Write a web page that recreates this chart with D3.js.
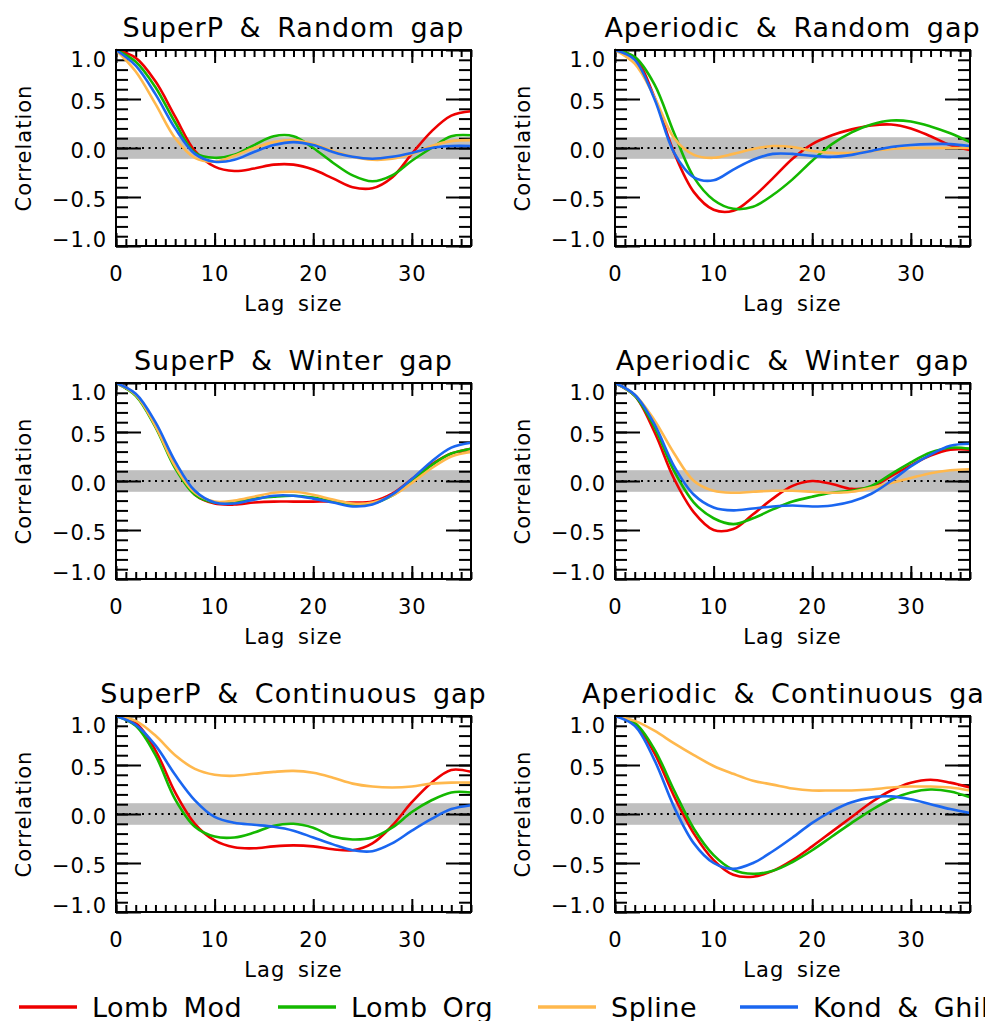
<!DOCTYPE html>
<html>
<head>
<meta charset="utf-8">
<script src="https://cdn.jsdelivr.net/npm/d3@7"></script>
<style>
  body { margin: 0; background: #fff; }
  text { font-family: "DejaVu Sans", sans-serif; fill: #000; }
</style>
</head>
<body>
<svg id="chart" width="985" height="1021"></svg>
<script>
  // lag values at which the curves were read (every 2 steps)
  const lags = [0, 2, 4, 6, 8, 10, 12, 14, 16, 18, 20, 22, 24, 26, 28, 30, 32, 34, 36];

  const methods = ['Lomb Mod', 'Lomb Org', 'Spline', 'Kond & Ghil'];
  const methodColors = ['#ee0000', '#14b800', '#ffb84d', '#1a66f0'];

  const titles = [
    'SuperP & Random gap', 'Aperiodic & Random gap',
    'SuperP & Winter gap', 'Aperiodic & Winter gap',
    'SuperP & Continuous gap', 'Aperiodic & Continuous gap'
  ];

  // SuperP & Random gap
  const spRandomLombMod = [1.0, 0.92, 0.68, 0.32, -0.03, -0.19, -0.235, -0.21, -0.17, -0.17, -0.22, -0.31, -0.40, -0.41, -0.30, -0.06, 0.17, 0.33, 0.375];
  const spRandomLombOrg = [1.0, 0.88, 0.62, 0.26, -0.05, -0.10, -0.07, 0.03, 0.12, 0.12, 0.0, -0.15, -0.28, -0.34, -0.28, -0.13, 0.0, 0.12, 0.13];
  const spRandomSpline = [1.0, 0.78, 0.45, 0.10, -0.10, -0.14, -0.08, 0.0, 0.06, 0.08, 0.04, -0.03, -0.09, -0.12, -0.11, -0.06, 0.02, 0.07, 0.08];
  const spRandomKond = [1.0, 0.84, 0.55, 0.20, -0.06, -0.14, -0.12, -0.04, 0.03, 0.06, 0.03, -0.04, -0.09, -0.11, -0.09, -0.05, 0.0, 0.02, 0.02];

  // Aperiodic & Random gap
  const apRandomLombMod = [1.0, 0.92, 0.52, -0.05, -0.45, -0.63, -0.64, -0.50, -0.31, -0.11, 0.04, 0.13, 0.19, 0.23, 0.24, 0.20, 0.12, 0.03, -0.02];
  const apRandomLombOrg = [1.0, 0.93, 0.65, 0.15, -0.30, -0.53, -0.62, -0.60, -0.48, -0.32, -0.13, 0.04, 0.16, 0.24, 0.28, 0.27, 0.22, 0.15, 0.06];
  const apRandomSpline = [1.0, 0.86, 0.52, 0.10, -0.07, -0.10, -0.06, -0.01, 0.02, 0.01, -0.03, -0.05, -0.05, -0.03, -0.01, 0.0, 0.0, 0.0, 0.0];
  const apRandomKond = [1.0, 0.90, 0.50, -0.05, -0.30, -0.33, -0.22, -0.12, -0.06, -0.06, -0.08, -0.09, -0.07, -0.03, 0.01, 0.03, 0.04, 0.04, 0.02];

  // SuperP & Winter gap
  const spWinterLombMod = [1.0, 0.88, 0.56, 0.15, -0.14, -0.23, -0.24, -0.22, -0.21, -0.21, -0.21, -0.21, -0.22, -0.21, -0.13, 0.02, 0.17, 0.28, 0.33];
  const spWinterLombOrg = [1.0, 0.87, 0.55, 0.13, -0.14, -0.22, -0.21, -0.18, -0.16, -0.15, -0.17, -0.21, -0.24, -0.23, -0.15, 0.0, 0.16, 0.28, 0.33];
  const spWinterSpline = [1.0, 0.88, 0.56, 0.15, -0.12, -0.21, -0.20, -0.16, -0.12, -0.11, -0.14, -0.19, -0.23, -0.22, -0.15, -0.02, 0.13, 0.25, 0.30];
  const spWinterKond = [1.0, 0.89, 0.60, 0.20, -0.10, -0.22, -0.23, -0.19, -0.15, -0.15, -0.18, -0.22, -0.26, -0.24, -0.14, 0.02, 0.20, 0.34, 0.39];

  // Aperiodic & Winter gap
  const apWinterLombMod = [1.0, 0.87, 0.50, 0.02, -0.32, -0.50, -0.49, -0.34, -0.18, -0.05, 0.0, -0.03, -0.08, -0.06, 0.05, 0.16, 0.26, 0.32, 0.32];
  const apWinterLombOrg = [1.0, 0.87, 0.55, 0.10, -0.22, -0.38, -0.44, -0.38, -0.29, -0.21, -0.16, -0.12, -0.10, -0.05, 0.07, 0.19, 0.29, 0.34, 0.33];
  const apWinterSpline = [1.0, 0.88, 0.62, 0.28, 0.0, -0.10, -0.12, -0.11, -0.10, -0.10, -0.11, -0.12, -0.11, -0.07, -0.02, 0.03, 0.08, 0.11, 0.12];
  const apWinterKond = [1.0, 0.88, 0.58, 0.15, -0.14, -0.27, -0.30, -0.28, -0.26, -0.25, -0.26, -0.25, -0.21, -0.13, 0.0, 0.15, 0.27, 0.36, 0.38];

  // SuperP & Continuous gap
  const spContLombMod = [1.0, 0.93, 0.65, 0.22, -0.10, -0.27, -0.34, -0.35, -0.33, -0.32, -0.33, -0.36, -0.37, -0.30, -0.12, 0.12, 0.32, 0.45, 0.43];
  const spContLombOrg = [1.0, 0.90, 0.60, 0.15, -0.13, -0.23, -0.24, -0.19, -0.12, -0.10, -0.14, -0.23, -0.26, -0.24, -0.14, 0.02, 0.14, 0.22, 0.22];
  const spContSpline = [1.0, 0.95, 0.80, 0.60, 0.46, 0.40, 0.39, 0.41, 0.43, 0.44, 0.42, 0.37, 0.31, 0.28, 0.27, 0.28, 0.31, 0.32, 0.32];
  const spContKond = [1.0, 0.91, 0.70, 0.40, 0.14, -0.03, -0.09, -0.11, -0.13, -0.17, -0.24, -0.31, -0.37, -0.38, -0.30, -0.17, -0.05, 0.05, 0.09];

  // Aperiodic & Continuous gap
  const apContLombMod = [1.0, 0.92, 0.62, 0.18, -0.20, -0.47, -0.62, -0.64, -0.58, -0.47, -0.33, -0.18, -0.03, 0.12, 0.24, 0.32, 0.35, 0.32, 0.27];
  const apContLombOrg = [1.0, 0.93, 0.66, 0.24, -0.15, -0.42, -0.57, -0.61, -0.58, -0.49, -0.37, -0.23, -0.09, 0.04, 0.15, 0.22, 0.25, 0.23, 0.17];
  const apContSpline = [1.0, 0.95, 0.85, 0.72, 0.60, 0.49, 0.41, 0.34, 0.30, 0.26, 0.24, 0.24, 0.24, 0.25, 0.27, 0.28, 0.28, 0.27, 0.24];
  const apContKond = [1.0, 0.90, 0.55, 0.07, -0.30, -0.50, -0.56, -0.50, -0.38, -0.24, -0.09, 0.03, 0.12, 0.17, 0.18, 0.15, 0.10, 0.05, 0.01];

  const yMajor = [-1, -0.5, 0, 0.5, 1];
  const xMajor = [0, 10, 20, 30];
  const bandHalf = 0.11;

  const panelSeries = [
    [spRandomLombMod, spRandomLombOrg, spRandomSpline, spRandomKond],
    [apRandomLombMod, apRandomLombOrg, apRandomSpline, apRandomKond],
    [spWinterLombMod, spWinterLombOrg, spWinterSpline, spWinterKond],
    [apWinterLombMod, apWinterLombOrg, apWinterSpline, apWinterKond],
    [spContLombMod, spContLombOrg, spContSpline, spContKond],
    [apContLombMod, apContLombOrg, apContSpline, apContKond]
  ];

  // layout
  const colLeft = [116, 615];
  const rowTop = [50, 383, 716];
  const plotW = 355, plotH = 196;

  const svg = d3.select('#chart');

  const x = d3.scaleLinear().domain([0, 36]).range([0, plotW]);
  const y = d3.scaleLinear().domain([-1, 1]).range([plotH, 0]);

  const line = d3.line()
    .x(d => x(d[0]))
    .y(d => y(d[1]))
    .curve(d3.curveCatmullRom.alpha(0.5));

  const yFmt = d => d3.format('.1f')(d);

  function styleAxis(g, showText) {
    g.select('.domain').remove();
    g.attr('font-family', null).attr('font-size', null);
    g.selectAll('.tick line').attr('stroke', '#000').attr('stroke-width', 2);
    if (!showText) g.selectAll('.tick text').remove();
  }

  panelSeries.forEach((series, i) => {
    const left = colLeft[i % 2];
    const top = rowTop[Math.floor(i / 2)];
    const g = svg.append('g').attr('transform', `translate(${left},${top})`);

    // gray significance band
    g.append('rect')
      .attr('x', 0).attr('width', plotW)
      .attr('y', y(bandHalf)).attr('height', y(-bandHalf) - y(bandHalf))
      .attr('fill', '#bfbfbf');

    // dotted zero line
    g.append('line')
      .attr('x1', 0).attr('x2', plotW)
      .attr('y1', y(0)).attr('y2', y(0))
      .attr('stroke', '#000').attr('stroke-width', 2)
      .attr('stroke-dasharray', '2,4.5');

    // axes (ticks pointing inward)
    g.append('g')
      .call(d3.axisLeft(y).tickValues(d3.range(-10, 11).map(v => v / 10)).tickSize(-12))
      .call(a => styleAxis(a, false));
    g.append('g')
      .call(d3.axisLeft(y).tickValues(yMajor).tickSize(-25).tickPadding(9).tickFormat(yFmt))
      .call(a => styleAxis(a, true))
      .selectAll('.tick text')
      .attr('font-size', 21)
      .attr('letter-spacing', 1)
      .attr('dy', d => (d === 1 ? 16.5 : d === -1 ? 0.5 : 9) + 'px');
    g.append('g').attr('transform', `translate(${plotW},0)`)
      .call(d3.axisRight(y).tickValues(d3.range(-10, 11).map(v => v / 10)).tickSize(-12))
      .call(a => styleAxis(a, false));
    g.append('g').attr('transform', `translate(${plotW},0)`)
      .call(d3.axisRight(y).tickValues(yMajor).tickSize(-25))
      .call(a => styleAxis(a, false));

    g.append('g').attr('transform', `translate(0,${plotH})`)
      .call(d3.axisBottom(x).tickValues(d3.range(0, 37)).tickSize(-7))
      .call(a => styleAxis(a, false));
    g.append('g').attr('transform', `translate(0,${plotH})`)
      .call(d3.axisBottom(x).tickValues(xMajor).tickSize(-13).tickPadding(20).tickFormat(d3.format('d')))
      .call(a => styleAxis(a, true))
      .selectAll('.tick text')
      .attr('font-size', 21)
      .attr('letter-spacing', 1);
    g.append('g')
      .call(d3.axisTop(x).tickValues(d3.range(0, 37)).tickSize(-7))
      .call(a => styleAxis(a, false));
    g.append('g')
      .call(d3.axisTop(x).tickValues(xMajor).tickSize(-13))
      .call(a => styleAxis(a, false));

    // curves
    series.forEach((vals, k) => {
      g.append('path')
        .datum(lags.map((l, j) => [l, vals[j]]))
        .attr('d', line)
        .attr('fill', 'none')
        .attr('stroke', methodColors[k])
        .attr('stroke-width', 2.6);
    });

    // frame
    g.append('rect')
      .attr('width', plotW).attr('height', plotH)
      .attr('fill', 'none').attr('stroke', '#000').attr('stroke-width', 2);

    // texts
    g.append('text')
      .attr('x', plotW / 2).attr('y', -13)
      .attr('text-anchor', 'middle')
      .attr('font-size', 27)
      .attr('letter-spacing', 1).attr('word-spacing', 6)
      .text(titles[i]);

    g.append('text')
      .attr('x', plotW / 2).attr('y', plotH + 65)
      .attr('text-anchor', 'middle')
      .attr('font-size', 21)
      .attr('letter-spacing', 1).attr('word-spacing', 5)
      .text('Lag size');

    g.append('text')
      .attr('transform', `translate(-85,${plotH / 2}) rotate(-90)`)
      .attr('text-anchor', 'middle')
      .attr('font-size', 21)
      .attr('letter-spacing', 1)
      .text('Correlation');
  });

  // legend
  const legendX = [19, 278, 538, 740];
  const legendY = 1007;
  const legend = svg.append('g');
  methods.forEach((m, k) => {
    legend.append('line')
      .attr('x1', legendX[k]).attr('x2', legendX[k] + 58)
      .attr('y1', legendY).attr('y2', legendY)
      .attr('stroke', methodColors[k]).attr('stroke-width', 3.5);
    legend.append('text')
      .attr('x', legendX[k] + 73).attr('y', legendY + 10)
      .attr('font-size', 27)
      .attr('letter-spacing', 0.5).attr('word-spacing', 6)
      .text(m);
  });
</script>
</body>
</html>
